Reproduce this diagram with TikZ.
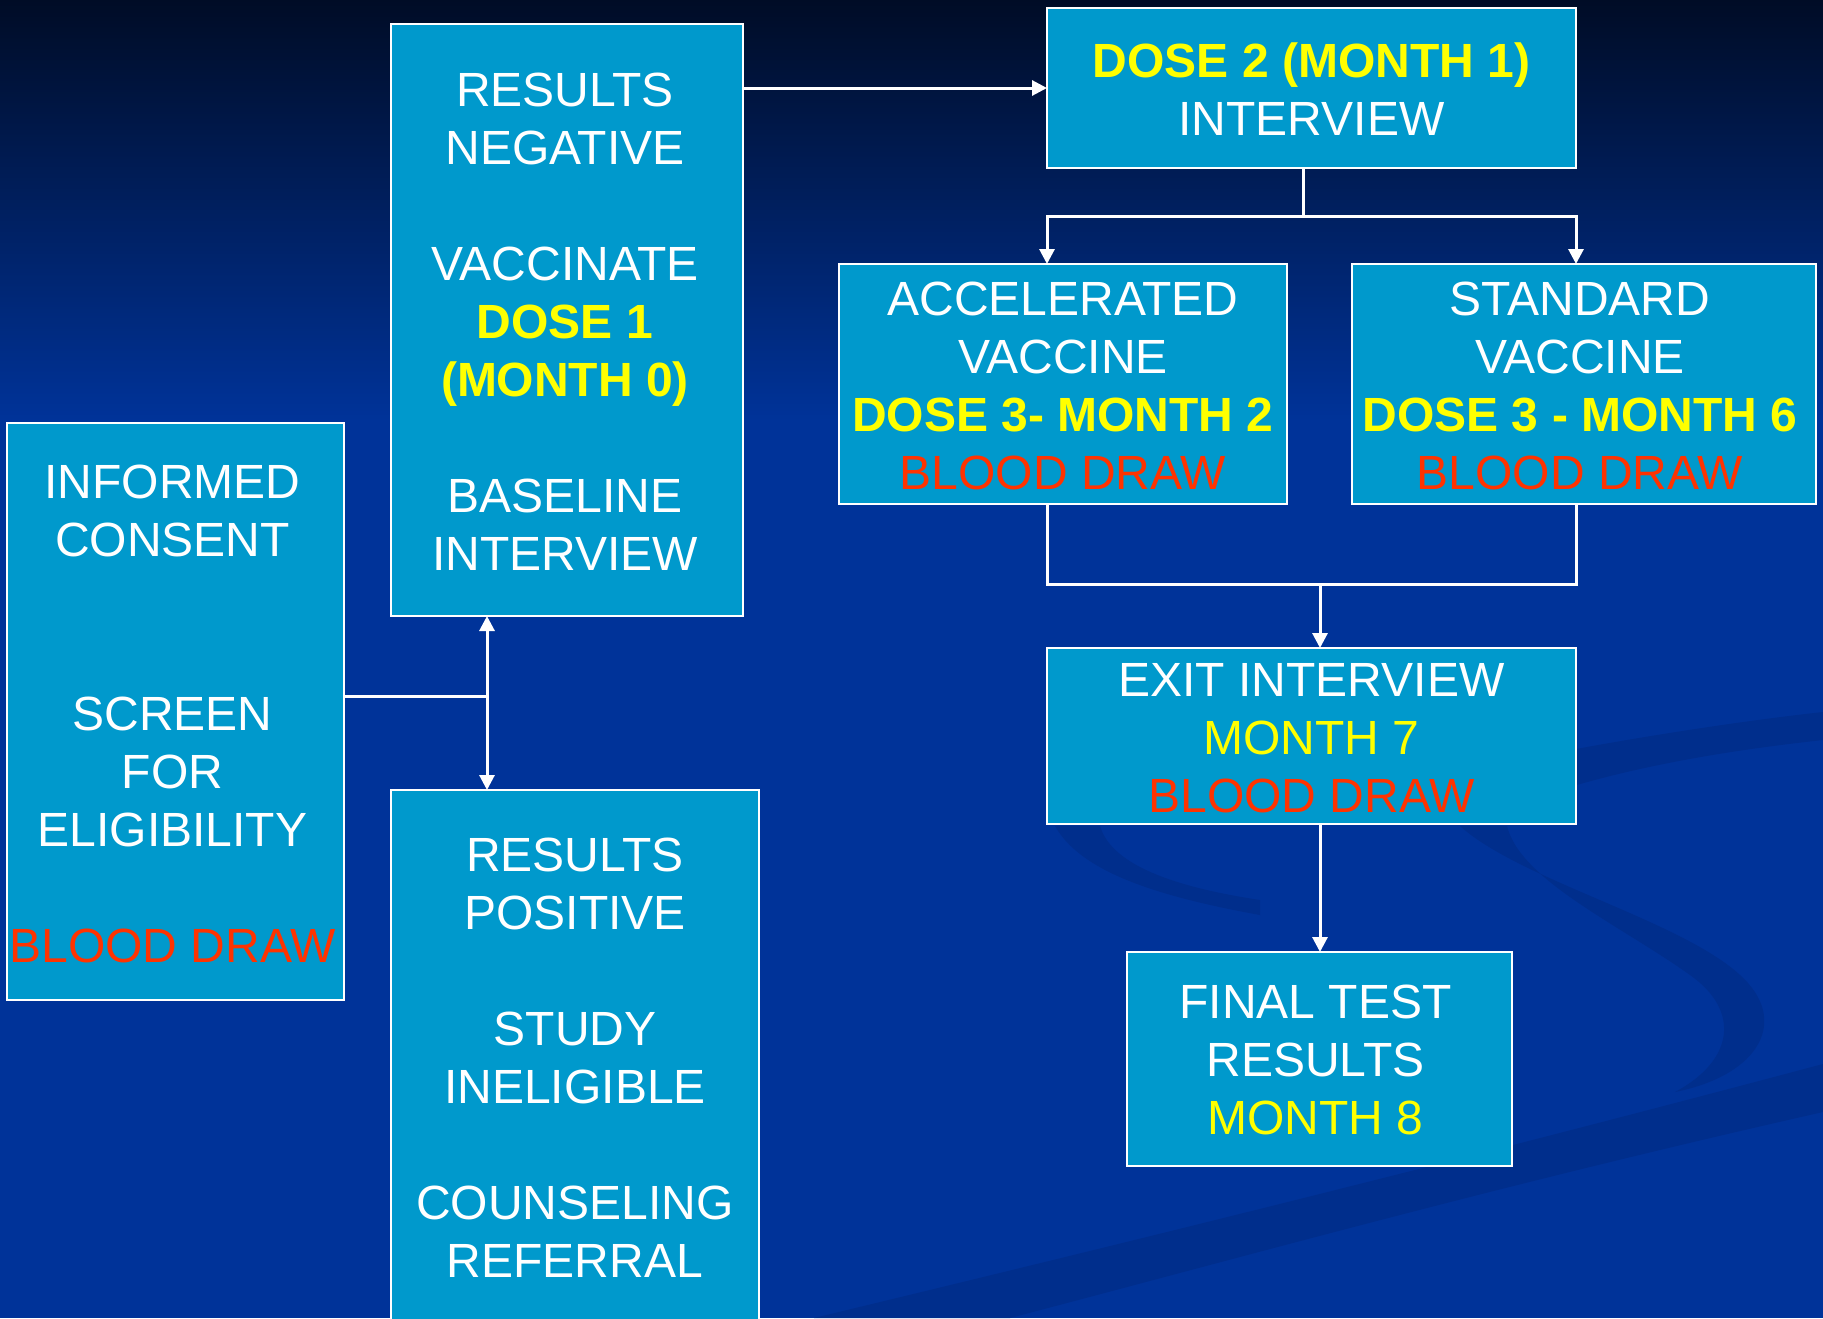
\documentclass[tikz,border=0pt]{standalone}
\usepackage{fontspec}
\setmainfont{Liberation Sans}
\usetikzlibrary{arrows.meta}
\definecolor{boxfill}{RGB}{0,153,204}
\definecolor{bgtop}{RGB}{0,12,38}
\definecolor{bgmain}{RGB}{0,51,153}
\definecolor{swoosh}{RGB}{0,46,140}
\definecolor{yel}{RGB}{255,255,0}
\definecolor{redtxt}{RGB}{255,51,0}
\begin{document}
\begin{tikzpicture}[x=1pt,y=-1pt,
  box/.style={draw=white, line width=2pt, fill=boxfill, inner sep=0pt, outer sep=0pt},
  txt/.style={text=white, align=center, inner sep=0pt, font=\fontsize{48}{58}\selectfont},
  conn/.style={draw=white, line width=3pt, line join=miter},
  arr/.style={conn, -{Triangle[width=15pt,length=15pt]}},
  darr/.style={conn, {Triangle[width=15pt,length=15pt]}-{Triangle[width=15pt,length=15pt]}},
]
\useasboundingbox (0,0) rectangle (1823,1318);
% background
\fill[bgmain] (0,0) rectangle (1823,1318);
\shade[top color=bgtop, bottom color=bgmain] (0,0) rectangle (1823,420);
% decorative swooshes
\fill[swoosh] (814,1318) .. controls (1200,1225) and (1500,1150) .. (1823,1064)
  -- (1823,1112) .. controls (1500,1185) and (1250,1255) .. (1010,1318) -- cycle;
\fill[swoosh] (1560,752) .. controls (1650,735) and (1750,720) .. (1823,712)
  -- (1823,740) .. controls (1750,748) and (1650,762) .. (1560,790) -- cycle;
\fill[swoosh] (1460,826) .. controls (1520,880) and (1680,920) .. (1740,975)
  .. controls (1790,1020) and (1760,1075) .. (1675,1092)
  .. controls (1735,1060) and (1740,1010) .. (1690,975)
  .. controls (1620,925) and (1520,880) .. (1507,826) -- cycle;
\fill[swoosh] (1055,826) .. controls (1080,870) and (1150,895) .. (1260,915)
  -- (1260,900) .. controls (1160,885) and (1110,860) .. (1100,826) -- cycle;

% boxes
\node[box, minimum width=337pt, minimum height=577pt] (ic) at (175.5,711.5) {};
\node[box, minimum width=352pt, minimum height=592pt] (neg) at (567,320) {};
\node[box, minimum width=368pt, minimum height=534pt] (pos) at (575,1057) {};
\node[box, minimum width=529pt, minimum height=160pt] (d2) at (1311.5,88) {};
\node[box, minimum width=448pt, minimum height=240pt] (acc) at (1063,384) {};
\node[box, minimum width=464pt, minimum height=240pt] (std) at (1584,384) {};
\node[box, minimum width=529pt, minimum height=176pt] (exit) at (1311.5,736) {};
\node[box, minimum width=385pt, minimum height=214pt] (fin) at (1319.5,1059) {};

% texts
\node[txt] (ict) at ([xshift=-3pt,yshift=-2pt]ic.center)
  {INFORMED\\CONSENT\\[116pt]SCREEN\\FOR\\ELIGIBILITY\\[58pt]{\color{redtxt}BLOOD DRAW}};
\node[txt] (negt) at ([xshift=-2pt,yshift=-2pt]neg.center)
  {RESULTS\\NEGATIVE\\[58pt]VACCINATE\\{\color{yel}\bfseries DOSE 1}\\{\color{yel}\bfseries(MONTH 0)}\\[58pt]BASELINE\\INTERVIEW};
\node[txt] (post) at ([yshift=-1pt]pos.center)
  {RESULTS\\POSITIVE\\[58pt]STUDY\\INELIGIBLE\\[58pt]COUNSELING\\REFERRAL};
\node[txt] (d2t) at ([yshift=-1pt]d2.center)
  {{\color{yel}\bfseries DOSE 2 (MONTH 1)}\\INTERVIEW};
\node[txt] (acct) at ([yshift=-2pt]acc.center)
  {ACCELERATED\\VACCINE\\{\color{yel}\bfseries DOSE 3- MONTH 2}\\{\color{redtxt}BLOOD DRAW}};
\node[txt] (stdt) at ([xshift=-4pt,yshift=-2pt]std.center)
  {STANDARD\\VACCINE\\{\color{yel}\bfseries DOSE 3 - MONTH 6}\\{\color{redtxt}BLOOD DRAW}};
\node[txt] (exitt) at ([yshift=-2pt]exit.center)
  {EXIT INTERVIEW\\{\color{yel}MONTH 7}\\{\color{redtxt}BLOOD DRAW}};
\node[txt] (fint) at ([xshift=-4pt,yshift=-1pt]fin.center)
  {FINAL TEST\\RESULTS\\{\color{yel}MONTH 8}};

% connectors
\coordinate (j) at (487,696);
\coordinate (split) at (1303,216);
\coordinate (merge) at (1320,584);
\draw[conn] (ic.east |- j) -- (j);
\draw[darr] (neg.south -| j) -- (pos.north -| j);
\draw[arr] (d2.west -| neg.east) -- (d2.west);
\draw[conn] (d2.south -| split) -- (split);
\draw[arr] (split) -- (split -| d2.west) -- (acc.north -| d2.west);
\draw[arr] (split) -- (split -| d2.east) -- (std.north -| d2.east);
\draw[conn] (acc.south -| d2.west) -- (merge -| d2.west) -- (merge -| d2.east) -- (std.south -| d2.east);
\draw[arr] (merge) -- (exit.north -| merge);
\draw[arr] (exit.south -| merge) -- (fin.north -| merge);
\end{tikzpicture}
\end{document}
